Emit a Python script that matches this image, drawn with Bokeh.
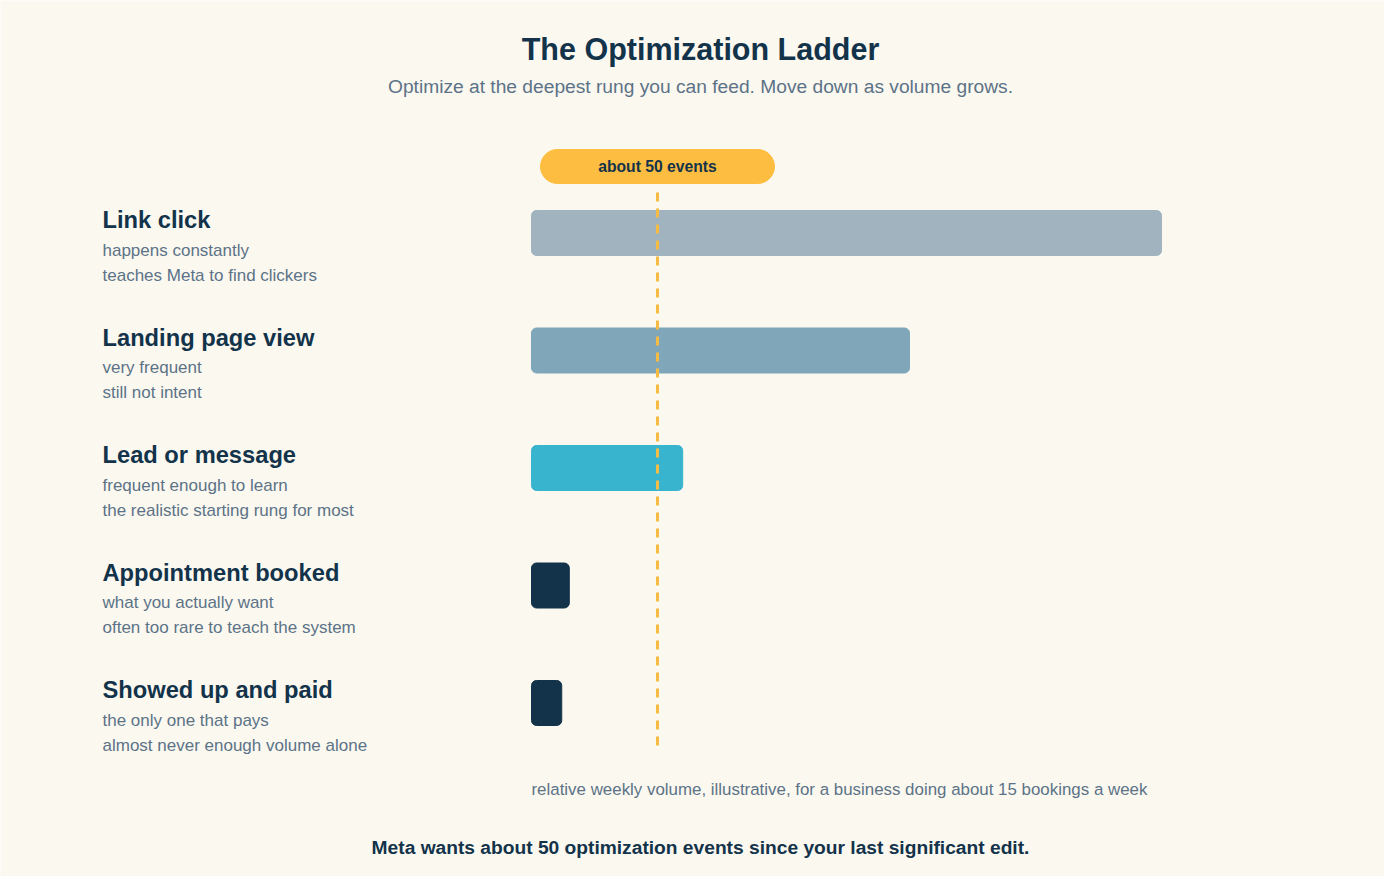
from bokeh.plotting import figure
from bokeh.models import Range1d, ColumnDataSource
from bokeh.core.properties import value
from bokeh.embed import file_html
from bokeh.resources import INLINE

# data
rungs = ["Link click", "Landing page view", "Lead or message", "Appointment booked", "Showed up and paid"]
notes_1 = ["happens constantly", "very frequent", "frequent enough to learn",
           "what you actually want", "the only one that pays"]
notes_2 = ["teaches Meta to find clickers", "still not intent", "the realistic starting rung for most",
           "often too rare to teach the system", "almost never enough volume alone"]
weekly_volume = [250, 150, 60, 15, 12]
bar_colors = ["#a0b3bf", "#7fa6b9", "#38b4cf", "#12334a", "#12334a"]
threshold = 50

BG = "#fbf8f0"
NAVY = "#12334a"
MUTED = "#5c7387"
FONT = value("Liberation Sans")

W, H = 1384, 876
# layout: pixels per event and pixels per rung
PX_PER_EVENT = 2.52
BAR_X0 = 531
ROW0, ROW_STEP = 232.5, 117.5


def px2x(px):
    return (px - BAR_X0) / PX_PER_EVENT


def px2y(py):
    return (py - ROW0) / ROW_STEP


p = figure(width=W, height=H, output_backend="svg", toolbar_location=None,
           x_range=Range1d(px2x(0), px2x(W)),
           y_range=Range1d(px2y(H), px2y(0)),
           min_border=0, background_fill_color=BG, border_fill_color=BG)
p.axis.visible = False
p.grid.visible = False
p.outline_line_color = None

rows = list(range(len(rungs)))
src = ColumnDataSource(dict(y=rows, right=weekly_volume, color=bar_colors,
                            label=rungs, n1=notes_1, n2=notes_2))

p.hbar(y="y", left=0, right="right", height=45 / ROW_STEP, color="color",
       border_radius=5, source=src)

# threshold line and pill
p.segment(x0=threshold, x1=threshold, y0=px2y(192), y1=px2y(748),
          line_color="#f6bb43", line_width=3, line_dash="9 7")
p.hbar(y=px2y(166), left=threshold - 117 / PX_PER_EVENT, right=threshold + 117 / PX_PER_EVENT,
       height=34 / ROW_STEP, color="#fdbd40", border_radius=17)
p.text(x=[threshold], y=[px2y(166)], text=["about 50 events"], text_font=FONT,
       text_font_style="bold", text_font_size=value("15.7px"), text_color=NAVY,
       text_align="center", text_baseline="middle")

# rung labels
lx = px2x(102)
p.text(x=lx, y="y", text="label", source=src, y_offset=-13, text_font=FONT,
       text_font_style="bold", text_font_size=value("23.7px"), text_color=NAVY,
       text_baseline="middle")
p.text(x=lx, y="y", text="n1", source=src, y_offset=17, text_font=FONT,
       text_font_size=value("17px"), text_color=MUTED, text_baseline="middle")
p.text(x=lx, y="y", text="n2", source=src, y_offset=42, text_font=FONT,
       text_font_size=value("17px"), text_color=MUTED, text_baseline="middle")

# titles and notes
p.text(x=[px2x(700)], y=[px2y(48)], text=["The Optimization Ladder"], text_font=FONT,
       text_font_style="bold", text_font_size=value("30.5px"), text_color=NAVY,
       text_align="center", text_baseline="middle")
p.text(x=[px2x(700)], y=[px2y(86)],
       text=["Optimize at the deepest rung you can feed. Move down as volume grows."],
       text_font=FONT, text_font_size=value("19.2px"), text_color=MUTED,
       text_align="center", text_baseline="middle")
p.text(x=[0], y=[px2y(789)],
       text=["relative weekly volume, illustrative, for a business doing about 15 bookings a week"],
       text_font=FONT, text_font_size=value("16.9px"), text_color=MUTED,
       text_baseline="middle")
p.text(x=[px2x(700)], y=[px2y(847)],
       text=["Meta wants about 50 optimization events since your last significant edit."],
       text_font=FONT, text_font_style="bold", text_font_size=value("19.2px"), text_color=NAVY,
       text_align="center", text_baseline="middle")

html = file_html(p, INLINE)
html = html.replace("<body>", '<body style="background-color:%s;">' % BG, 1)
open("out.html", "w").write(html)
